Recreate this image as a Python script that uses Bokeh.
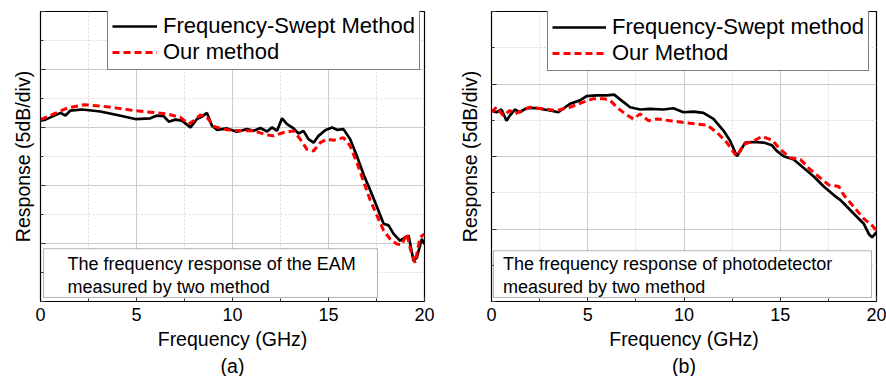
from bokeh.plotting import figure
from bokeh.layouts import row
from bokeh.models import (Legend, LegendItem, BoxAnnotation, Label, Title,
                          Range1d, FixedTicker)
from bokeh.embed import file_html
from bokeh.resources import INLINE

FONT = "Liberation Sans"

# ---------------- data ----------------
x_major_ticks = [0, 5, 10, 15, 20]
x_minor_ticks = [2.5, 7.5, 12.5, 17.5]

# (a) EAM, response in dB (5 dB/div), 0..25
a_fs_freq = [0, 0.26, 1.04, 1.30, 1.56, 2.17, 3.12, 3.99, 4.94, 5.72, 6.07, 6.42, 6.68,
             7.02, 7.37, 7.81, 8.15, 8.41, 8.67, 8.93, 9.19, 9.71, 10.23, 10.75, 11.10,
             11.45, 11.80, 12.06, 12.32, 12.58, 12.84, 13.18, 13.44, 13.70, 13.96, 14.22,
             14.48, 14.83, 15.18, 15.44, 15.78, 16.13, 16.48, 16.83, 17.17, 17.52, 17.87,
             18.13, 18.39, 18.73, 18.99, 19.17, 19.43, 19.60, 19.86, 20.0]
a_fs_resp = [15.59, 15.68, 16.26, 16.03, 16.46, 16.55, 16.38, 16.08, 15.73, 15.79, 16.03,
             15.97, 15.50, 15.68, 15.59, 15.01, 15.73, 15.94, 16.26, 15.15, 14.80, 14.92,
             14.63, 14.86, 14.71, 14.95, 14.66, 15.01, 14.71, 15.79, 15.30, 14.92, 14.48,
             14.71, 13.99, 13.69, 14.28, 14.77, 15.01, 14.80, 14.86, 13.99, 12.53, 10.93,
             9.62, 8.16, 6.70, 6.56, 5.83, 5.24, 5.54, 5.68, 3.50, 3.79, 5.39, 4.95]

a_our_freq = [0, 0.69, 1.39, 2.25, 3.12, 3.99, 4.86, 5.72, 6.59, 7.29, 7.72, 7.98, 8.33,
              8.67, 9.02, 9.71, 10.41, 11.10, 11.80, 12.14, 12.66, 13.18, 13.53, 13.88,
              14.22, 14.57, 14.92, 15.26, 15.78, 16.13, 16.48, 16.83, 17.17, 17.52, 17.87,
              18.21, 18.56, 18.82, 19.08, 19.29, 19.51, 19.77, 20.0]
a_our_resp = [15.68, 16.17, 16.67, 16.96, 16.86, 16.67, 16.46, 16.32, 16.17, 15.88, 15.30,
              15.59, 16.08, 15.88, 15.09, 14.80, 14.71, 14.71, 14.36, 14.28, 14.57, 14.71,
              13.99, 13.11, 12.97, 13.69, 13.99, 13.90, 14.13, 13.40, 11.95, 10.34, 8.74,
              7.43, 6.12, 5.39, 4.95, 4.90, 5.83, 4.37, 3.35, 5.54, 5.83]

# (b) photodetector, response in dB (5 dB/div), 0..20
b_fs_freq = [0, 0.26, 0.52, 0.78, 0.95, 1.21, 1.47, 1.82, 2.34, 3.04, 3.47, 4.08, 4.60,
             4.94, 5.46, 5.98, 6.37, 6.68, 7.20, 7.72, 8.24, 8.93, 9.45, 9.97, 10.49,
             11.01, 11.53, 12.06, 12.40, 12.75, 12.92, 13.18, 13.62, 14.14, 14.57, 14.83,
             15.18, 15.70, 16.22, 16.74, 17.26, 17.78, 18.13, 18.47, 18.99, 19.34, 19.60,
             19.77, 20.0]
b_fs_resp = [13.17, 13.05, 13.24, 12.47, 12.82, 13.24, 13.05, 13.33, 13.33, 13.17, 13.05,
             13.64, 13.87, 14.17, 14.22, 14.22, 14.27, 13.94, 13.40, 13.24, 13.29, 13.24,
             13.33, 13.05, 13.10, 13.01, 12.59, 11.77, 11.07, 10.02, 10.37, 10.96, 11.00,
             10.96, 10.77, 10.37, 10.02, 9.79, 9.21, 8.62, 7.93, 7.34, 6.99, 6.53, 5.83,
             5.36, 4.66, 4.43, 4.78]

b_our_freq = [0, 0.26, 0.61, 0.95, 1.21, 1.99, 2.69, 3.38, 4.08, 4.77, 5.29, 5.81, 6.16,
              6.51, 6.94, 7.37, 7.72, 8.15, 8.59, 9.28, 9.97, 10.67, 11.19, 11.71, 12.23,
              12.66, 12.75, 13.10, 13.62, 14.05, 14.57, 15.00, 15.52, 16.05, 16.57, 17.09,
              17.52, 18.04, 18.30, 18.82, 19.34, 19.77, 20.0]
b_our_resp = [13.05, 13.40, 12.82, 13.17, 12.94, 13.40, 13.29, 13.17, 13.40, 13.75, 13.99,
              13.99, 13.87, 13.40, 12.94, 12.59, 12.94, 12.47, 12.59, 12.47, 12.35, 12.24,
              12.17, 11.66, 10.96, 10.14, 10.02, 10.84, 11.07, 11.38, 11.14, 10.49, 9.91,
              9.79, 9.09, 8.51, 8.04, 7.93, 7.34, 6.53, 5.71, 5.24, 4.90]


def make_panel(fs_f, fs_r, our_f, our_r, y_max, fs_label, our_label, caption, note,
               border_left, border_right, ylab_standoff,
               leg_loc, leg_glyph_w, box, note_xy):
    p = figure(width=443, height=376, output_backend="svg", toolbar_location=None,
               x_range=Range1d(0, 20), y_range=Range1d(0, y_max),
               min_border_left=border_left, min_border_right=border_right,
               min_border_top=11, min_border_bottom=0)
    p.outline_line_color = "black"
    p.outline_line_width = 1.2
    p.background_fill_color = "white"
    p.border_fill_color = "white"

    y_major = list(range(0, y_max + 1, 5))
    y_minor = [v + 2.5 for v in y_major[:-1]]
    p.xaxis.ticker = FixedTicker(ticks=x_major_ticks, minor_ticks=x_minor_ticks)
    p.yaxis.ticker = FixedTicker(ticks=y_major, minor_ticks=y_minor)

    for ax in (p.xaxis[0], p.yaxis[0]):
        ax.axis_line_color = "black"
        ax.major_tick_in = 5
        ax.major_tick_out = 0
        ax.minor_tick_in = 3
        ax.minor_tick_out = 0
        ax.major_tick_line_color = "#333333"
        ax.minor_tick_line_color = "#333333"
        ax.major_label_text_font = FONT
        ax.axis_label_text_font = FONT
        ax.axis_label_text_font_style = "normal"
        ax.axis_label_text_font_size = "19.5px"
        ax.axis_label_text_color = "black"
        ax.major_label_text_color = "black"

    p.xaxis.axis_label = "Frequency (GHz)"
    p.xaxis.major_label_text_font_size = "18px"
    p.xaxis.major_label_standoff = 6
    p.xaxis.axis_label_standoff = 4

    # the y axis shows no tick values (5 dB/div scale only)
    p.yaxis.axis_label = "Response (5dB/div)"
    p.yaxis.major_label_text_color = None
    p.yaxis.major_label_text_font_size = "1px"
    p.yaxis.major_label_standoff = 0
    p.yaxis.axis_label_standoff = ylab_standoff

    for g in (p.xgrid[0], p.ygrid[0]):
        g.grid_line_color = "#cbcbcb"
        g.grid_line_width = 1
        g.minor_grid_line_color = "#d8d8d8"
        g.minor_grid_line_dash = "2 2"
        g.minor_grid_line_width = 1

    r_fs = p.line(fs_f, fs_r, line_color="black", line_width=2.7)
    r_our = p.line(our_f, our_r, line_color="#ff0000", line_width=3, line_dash="7 4")

    legend = Legend(items=[LegendItem(label=fs_label, renderers=[r_fs]),
                           LegendItem(label=our_label, renderers=[r_our])],
                    location=leg_loc, orientation="vertical",
                    label_text_font=FONT, label_text_font_size="22px",
                    label_text_color="black",
                    glyph_width=leg_glyph_w, glyph_height=24, label_height=24,
                    spacing=0, padding=4, margin=0, label_standoff=6,
                    border_line_color="black", border_line_width=1,
                    background_fill_color="white", background_fill_alpha=1)
    p.add_layout(legend)

    bl, br, bb, bt = box
    p.add_layout(BoxAnnotation(left=bl, right=br, bottom=bb, top=bt,
                               fill_color="white", fill_alpha=1,
                               line_color="black", line_width=1))
    p.add_layout(Label(x=note_xy[0], y=note_xy[1], text=note, text_baseline="top",
                       text_align="left", text_font=FONT, text_font_size="18px",
                       text_color="black", text_line_height=1.15))

    p.add_layout(Title(text=caption, align="center", text_font=FONT,
                       text_font_size="19.5px", text_font_style="normal",
                       text_color="black", standoff=0), "below")
    return p


pa = make_panel(a_fs_freq, a_fs_resp, a_our_freq, a_our_resp, 25,
                "Frequency-Swept Method", "Our method", "(a)",
                "The frequency response of the EAM\nmeasured by two method",
                40, 19, 7, (67, 231), 45,
                (0.16, 17.55, 0.35, 4.55), (1.41, 4.11))
pb = make_panel(b_fs_freq, b_fs_resp, b_our_freq, b_our_resp, 20,
                "Frequency-Swept method", "Our Method", "(b)",
                "The frequency response of photodetector\nmeasured by two method",
                48, 10, 11, (56, 230), 54,
                (0.1, 19.74, 0.28, 3.5), (0.6, 3.29))

layout = row(pa, pb)
open("out.html", "w").write(file_html(layout, INLINE))
